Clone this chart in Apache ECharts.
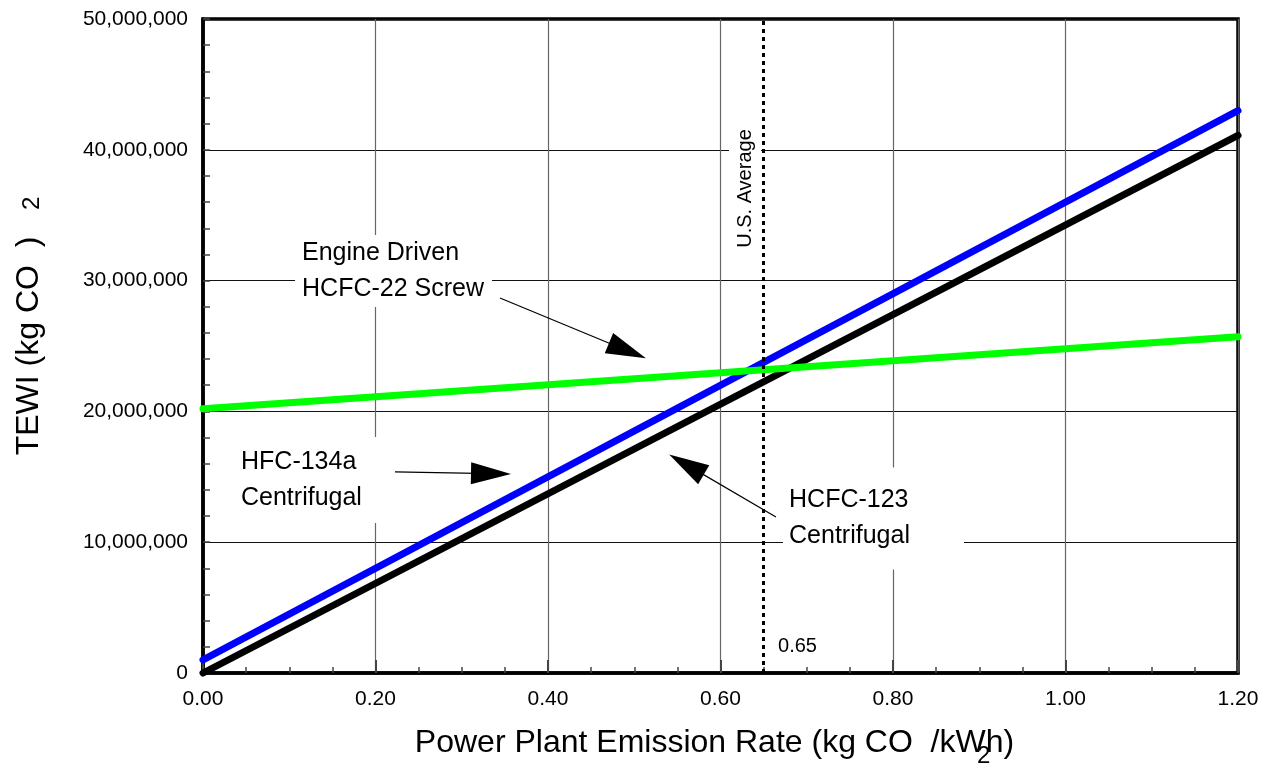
<!DOCTYPE html>
<html>
<head>
<meta charset="utf-8">
<script src="https://cdn.jsdelivr.net/npm/echarts@6/dist/echarts.min.js"></script>
<style>html,body{margin:0;padding:0;background:#fff}#c{width:1267px;height:772px}</style>
</head>
<body>
<div id="c"></div>
<script>
// ---- data ----
const emissionRate = [0.00, 1.20];               // kg CO2/kWh
const hfc134aCentrifugal = [1.0e6, 43.0e6];      // TEWI kg CO2
const hcfc123Centrifugal = [0, 41.1e6];
const engineDrivenScrew = [20.2e6, 25.7e6];
const usAverageRate = 0.65;
const xTickValues = [0.00, 0.20, 0.40, 0.60, 0.80, 1.00, 1.20];
const yTickValues = [0, 10e6, 20e6, 30e6, 40e6, 50e6];
const annotationTexts = ['Engine Driven\nHCFC-22 Screw', 'HFC-134a\nCentrifugal', 'HCFC-123\nCentrifugal'];
const usAverageText = 'U.S. Average';
const usAverageValueText = '0.65';

// ---- layout / annotation placement (data coords) ----
const labelAnchors = [[0.1067, 30.73e6], [0.0371, 14.76e6], [0.6725, 11.81e6]];
const labelPaddings = [[0, 8, 0, 7], [7, 20, 7, 6], [15, 54, 15, 6]];
const arrowPairs = [
  [[0.3443, 28.67e6], [0.4921, 24.64e6]],
  [[0.2226, 15.37e6], [0.3339, 15.24e6]],
  [[0.6643, 11.93e6], [0.5605, 15.93e6]]
];
const usAvgLabelAnchor = [0.6284, 37.04e6];
const usAvgValueAnchor = [0.6667, 1.99e6];

const FONT = 'Liberation Sans, Arial, sans-serif';
const pair = (xs, ys) => xs.map((x, i) => [x, ys[i]]);

const chart = echarts.init(document.getElementById('c'));

const annotationData = annotationTexts.map((t, i) => ({
  value: labelAnchors[i],
  label: {
    show: true, position: 'right', distance: 0, formatter: t,
    fontSize: 25, lineHeight: 36, color: '#000', fontFamily: FONT,
    align: 'left', backgroundColor: '#fff', padding: labelPaddings[i]
  }
}));
annotationData.push({
  value: usAvgLabelAnchor,
  label: {
    show: true, position: 'inside', rotate: 90, formatter: usAverageText,
    fontSize: 20, color: '#000', fontFamily: FONT,
    align: 'center', verticalAlign: 'middle',
    backgroundColor: '#fff', padding: [6, 4, 6, 4]
  }
});
annotationData.push({
  value: usAvgValueAnchor,
  label: {
    show: true, position: 'right', distance: 0, formatter: usAverageValueText,
    fontSize: 20, color: '#000', fontFamily: FONT
  }
});

const option = {
  backgroundColor: '#fff',
  animation: false,
  grid: {
    left: 203, right: 29, top: 19, bottom: 99,
    show: true, borderColor: '#000', borderWidth: 3.5, backgroundColor: 'transparent'
  },
  xAxis: {
    type: 'value', min: xTickValues[0], max: xTickValues[xTickValues.length - 1], interval: 0.2,
    name: 'Power Plant Emission Rate (kg CO  /kWh)',
    nameLocation: 'middle', nameGap: 54,
    nameTextStyle: { fontSize: 32, color: '#000', fontFamily: FONT, padding: [0, 12, 0, 0] },
    axisLine: { show: true, lineStyle: { color: '#000', width: 3.5 } },
    axisTick: { show: true, inside: true, length: 13, lineStyle: { color: '#444', width: 2 } },
    minorTick: { show: true, splitNumber: 4, length: 6, lineStyle: { color: '#444', width: 1.5 } },
    splitLine: { show: true, lineStyle: { color: '#666', width: 1.2 } },
    axisLabel: {
      fontSize: 21, color: '#000', fontFamily: FONT, margin: 16,
      formatter: v => v.toFixed(2)
    }
  },
  yAxis: {
    type: 'value', min: yTickValues[0], max: yTickValues[yTickValues.length - 1], interval: 10e6,
    name: 'TEWI (kg CO  )',
    nameLocation: 'middle', nameGap: 158, nameRotate: 90,
    nameTextStyle: { fontSize: 32, color: '#000', fontFamily: FONT },
    axisLine: { show: true, lineStyle: { color: '#000', width: 3.5 } },
    axisTick: { show: true, inside: true, length: 7, lineStyle: { color: '#444', width: 1.5 } },
    minorTick: { show: true, splitNumber: 5, length: 7, lineStyle: { color: '#444', width: 1.5 } },
    splitLine: { show: true, lineStyle: { color: '#111', width: 1.2 } },
    axisLabel: {
      fontSize: 21, color: '#000', fontFamily: FONT, margin: 15,
      formatter: v => v.toLocaleString('en-US')
    }
  },
  graphic: [
    { type: 'text', left: 977, top: 744, style: { text: '2', fontSize: 24, fill: '#000', fontFamily: FONT } },
    { type: 'text', x: 20, y: 210, rotation: Math.PI / 2, style: { text: '2', fontSize: 24, fill: '#000', fontFamily: FONT } }
  ],
  series: [
    {
      name: 'HCFC-123 Centrifugal', type: 'line', data: pair(emissionRate, hcfc123Centrifugal),
      showSymbol: false, clip: false, z: 2,
      lineStyle: { color: '#000', width: 7, cap: 'round' }
    },
    {
      name: 'HFC-134a Centrifugal', type: 'line', data: pair(emissionRate, hfc134aCentrifugal),
      showSymbol: false, clip: false, z: 3,
      lineStyle: { color: '#0000ff', width: 7, cap: 'round' }
    },
    {
      name: 'Engine Driven HCFC-22 Screw', type: 'line', data: pair(emissionRate, engineDrivenScrew),
      showSymbol: false, clip: false, z: 4,
      lineStyle: { color: '#00ff00', width: 7, cap: 'round' }
    },
    {
      name: 'annotations', type: 'scatter', symbolSize: 0, z: 1, silent: true,
      itemStyle: { opacity: 1 },
      data: annotationData,
      markLine: {
        silent: true, symbol: ['none', 'none'],
        label: { show: false },
        lineStyle: { color: '#000', width: 3, type: [4, 4], opacity: 1 },
        data: [{ xAxis: usAverageRate }]
      }
    },
    {
      name: 'arrows', type: 'scatter', symbolSize: 0, z: 5, silent: true, data: [],
      itemStyle: { opacity: 1 },
      markLine: {
        silent: true, symbol: ['none', 'triangle'], symbolSize: [22, 40],
        label: { show: false },
        lineStyle: { color: '#000', width: 1.2, type: 'solid', opacity: 1 },
        itemStyle: { color: '#000', opacity: 1 },
        data: arrowPairs.map(p => [{ coord: p[0] }, { coord: p[1] }])
      }
    }
  ]
};
chart.setOption(option);
</script>
</body>
</html>
